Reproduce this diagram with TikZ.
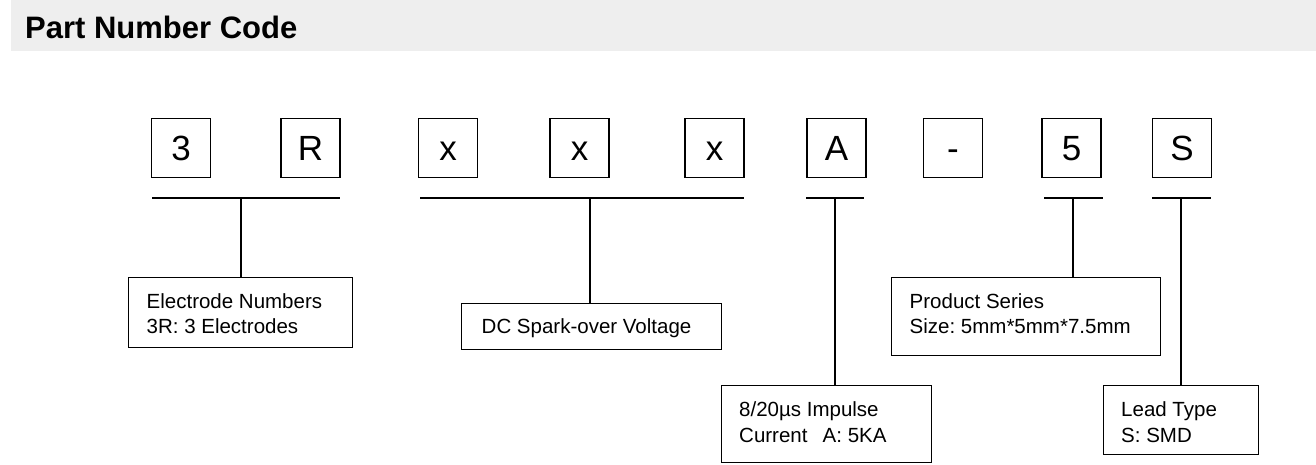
\documentclass[tikz,border=0pt]{standalone}
\usepackage{fontspec}
\setmainfont{Liberation Sans}
\definecolor{headgray}{HTML}{EEEEEE}
\frenchspacing
\begin{document}
\begin{tikzpicture}[x=1pt,y=-1pt,
  letterbox/.style={draw, line width=1.3pt, minimum width=59, minimum height=59, inner sep=0pt,
    text height=25pt, text depth=0pt, font=\fontsize{35}{35}\selectfont},
  labbox/.style={draw, line width=1.3pt, inner sep=0pt},
  labtext/.style={anchor=base west, inner sep=0pt, font=\fontsize{20.5}{25}\selectfont},
  bar/.style={line width=2pt},
  stem/.style={line width=2pt}]
\useasboundingbox (0,0) rectangle (1316,464);
% header
\fill[headgray] (11,0) rectangle (1316,51);
\node[anchor=base west, inner sep=0pt, font=\bfseries\fontsize{31}{31}\selectfont] (title) at (25,38) {Part Number Code};
% letter boxes
\node[letterbox] (b3) at (181,148) {3};
\node[letterbox] (bR) at (310.5,148) {R};
\node[letterbox] (bx1) at (448,148) {x};
\node[letterbox] (bx2) at (579.5,148) {x};
\node[letterbox] (bx3) at (714.5,148) {x};
\node[letterbox] (bA) at (836.5,148) {A};
\node[letterbox] (bd) at (953,148) {-};
\node[letterbox] (b5) at (1071.5,148) {5};
\node[letterbox] (bS) at (1182,148) {S};
% bars
\coordinate (l1) at (152,198); \coordinate (r1) at (340,198); \coordinate (m1) at (241,198);
\coordinate (l2) at (420,198); \coordinate (r2) at (744,198); \coordinate (m2) at (590,198);
\coordinate (l3) at (806,198); \coordinate (r3) at (864,198); \coordinate (m3) at (835,198);
\coordinate (l4) at (1044,198); \coordinate (r4) at (1103,198); \coordinate (m4) at (1073,198);
\coordinate (l5) at (1152,198); \coordinate (r5) at (1211,198); \coordinate (m5) at (1181,198);
\draw[bar] (l1) -- (r1);
\draw[bar] (l2) -- (r2);
\draw[bar] (l3) -- (r3);
\draw[bar] (l4) -- (r4);
\draw[bar] (l5) -- (r5);
% label boxes
\node[labbox, minimum width=224, minimum height=70] (elbox) at (240.5,312.5) {};
\node[labbox, minimum width=260, minimum height=46] (dcbox) at (591.5,326.5) {};
\node[labbox, minimum width=210, minimum height=77] (abox) at (826.5,424) {};
\node[labbox, minimum width=269, minimum height=78] (psbox) at (1026,316.5) {};
\node[labbox, minimum width=155, minimum height=69] (ltbox) at (1181,420) {};
% stems
\draw[stem] (m1) -- (m1 |- elbox.north);
\draw[stem] (m2) -- (m2 |- dcbox.north);
\draw[stem] (m3) -- (m3 |- abox.north);
\draw[stem] (m4) -- (m4 |- psbox.north);
\draw[stem] (m5) -- (m5 |- ltbox.north);
% texts
\node[labtext] (el1) at (146.5,308) {Electrode Numbers};
\node[labtext] (el2) at (146.5,333) {3R: 3 Electrodes};
\node[labtext] (dc1) at (481.5,333) {DC Spark-over Voltage};
\node[labtext] (a1) at (739,416) {8/20µs Impulse};
\node[labtext] (a2) at (739,442) {Current\hspace{9.5pt} A: 5KA};
\node[labtext] (ps1) at (909.5,308) {Product Series};
\node[labtext] (ps2) at (909.5,333) {Size: 5mm*5mm*7.5mm};
\node[labtext] (lt1) at (1121,416) {Lead Type};
\node[labtext] (lt2) at (1121,442) {S: SMD};
\end{tikzpicture}
\end{document}
